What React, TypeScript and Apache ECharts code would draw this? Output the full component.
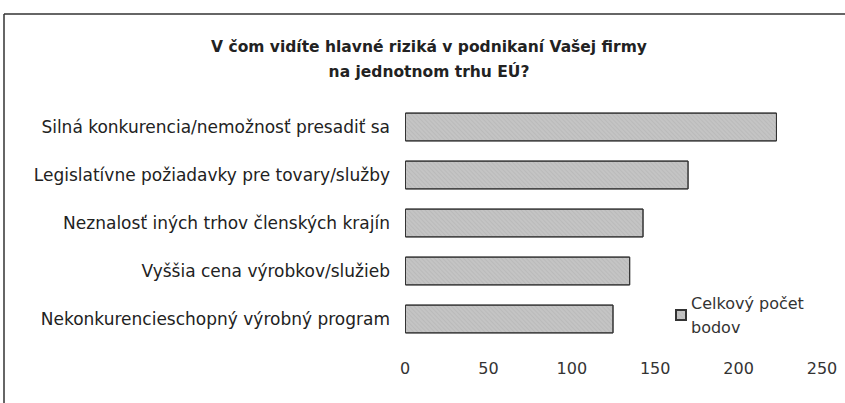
import React, { useEffect, useRef } from "react";
import * as echarts from "echarts";

const categories = [
  "Silná konkurencia/nemožnosť presadiť sa",
  "Legislatívne požiadavky pre tovary/služby",
  "Neznalosť iných trhov členských krajín",
  "Vyššia cena výrobkov/služieb",
  "Nekonkurencieschopný výrobný program",
];
const values = [223, 170, 143, 135, 125];
const seriesName = "Celkový počet\nbodov";
const titleLines = ["V čom vidíte hlavné riziká v podnikaní Vašej firmy", "na jednotnom trhu EÚ?"];

export default function App() {
  const ref = useRef<HTMLDivElement>(null);
  useEffect(() => {
    document.body.style.margin = "0";
    const chart = echarts.init(ref.current!, null, { renderer: "svg" });
    const font = "'DejaVu Sans', Verdana, sans-serif";
    chart.setOption({
      animation: false,
      backgroundColor: "#ffffff",
      textStyle: { fontFamily: font },
      title: {
        text: titleLines.join("\n"),
        left: 424,
        textAlign: "center",
        top: 29,
        textStyle: { fontSize: 15.5, fontWeight: "bold", color: "#222", lineHeight: 25, fontFamily: font },
      },
      legend: {
        data: [seriesName],
        left: 670,
        top: 286,
        icon: "rect",
        itemWidth: 10,
        itemHeight: 10,
        itemGap: 6,
        textStyle: { fontSize: 16, color: "#333", lineHeight: 24, fontFamily: font },
      },
      grid: { left: 405, right: 23, top: 103, bottom: 60 },
      xAxis: {
        type: "value",
        min: 0,
        max: 250,
        interval: 50,
        axisLine: { show: false },
        axisTick: { show: false },
        splitLine: { show: false },
        axisLabel: { fontSize: 16, color: "#333", margin: 17, fontFamily: font },
      },
      yAxis: {
        type: "category",
        data: categories,
        inverse: true,
        axisLine: { show: false },
        axisTick: { show: false },
        axisLabel: { fontSize: 17, color: "#222", margin: 15, fontFamily: font },
      },
      series: [
        {
          name: seriesName,
          type: "bar",
          data: values,
          barCategoryGap: "40%",
          itemStyle: {
            color: "#c4c4c4",
            borderColor: "#333",
            borderWidth: 1,
            decal: {
              symbol: "rect",
              symbolSize: 0.5,
              dashArrayX: [1, 0],
              dashArrayY: [1, 2],
              color: "rgba(90,90,90,0.35)",
              rotation: 0.8,
            },
          },
        },
      ],
      graphic: [
        { type: "line", shape: { x1: 4, y1: 14, x2: 845, y2: 14 }, style: { stroke: "#333", lineWidth: 1.5 } },
        { type: "line", shape: { x1: 4, y1: 14, x2: 4, y2: 403 }, style: { stroke: "#333", lineWidth: 1.5 } },
      ],
    });
    return () => chart.dispose();
  }, []);
  return <div ref={ref} style={{ position: "absolute", left: 0, top: 0, width: 845, height: 403 }} />;
}
